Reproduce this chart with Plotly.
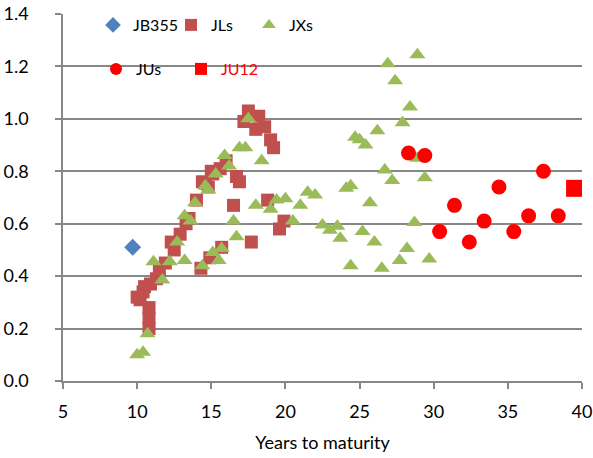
import plotly.graph_objects as go

# ---- data ----
jb355_x = [9.7]
jb355_y = [0.51]

jls_x = [10.0, 10.2, 10.4, 10.5, 10.8, 10.8, 10.8, 10.9, 11.3, 11.5, 11.9, 12.3, 12.5, 12.9,
         13.3, 13.5, 14.0, 14.4, 14.8, 15.1, 15.6, 16.0, 16.7, 16.9, 17.2, 17.5, 18.0, 18.2,
         18.6, 19.0, 19.2, 16.5, 18.8, 19.6, 19.9, 17.7, 15.7, 14.9, 14.3, 14.6, 15.0]
jls_y = [0.32, 0.31, 0.34, 0.36, 0.28, 0.24, 0.20, 0.37, 0.39, 0.42, 0.45, 0.53, 0.50, 0.56,
         0.60, 0.62, 0.69, 0.76, 0.74, 0.79, 0.81, 0.84, 0.78, 0.76, 0.99, 1.03, 0.96, 1.01,
         0.97, 0.92, 0.89, 0.67, 0.69, 0.58, 0.61, 0.53, 0.51, 0.47, 0.43, 0.755, 0.80]

jxs_x = [10.0, 10.4, 10.7, 11.7, 11.1, 12.2, 13.2, 12.7, 13.2, 13.6, 13.9, 14.6, 14.8, 15.3,
         15.9, 16.2, 16.9, 17.3, 17.5, 18.4, 18.0, 19.0, 19.4, 20.0, 21.0, 21.5, 22.0, 20.5,
         16.5, 16.7, 22.5, 23.0, 23.5, 23.7, 15.1, 15.7, 15.5, 14.4, 24.7, 25.0, 25.4, 26.2,
         26.9, 28.9, 27.4, 28.4, 27.9, 28.9, 26.7, 27.2, 29.4, 24.1, 24.4, 25.7, 28.7, 25.2,
         26.0, 28.2, 27.7, 29.7, 24.4, 26.5]
jxs_y = [0.10, 0.11, 0.18, 0.385, 0.455, 0.455, 0.46, 0.53, 0.63, 0.61, 0.68, 0.745, 0.73, 0.79,
         0.86, 0.82, 0.89, 0.89, 1.00, 0.84, 0.67, 0.655, 0.69, 0.695, 0.67, 0.72, 0.71, 0.61,
         0.61, 0.55, 0.595, 0.575, 0.59, 0.545, 0.49, 0.505, 0.46, 0.44, 0.93, 0.92, 0.90, 0.955,
         1.21, 1.245, 1.145, 1.045, 0.985, 0.85, 0.805, 0.765, 0.775, 0.735, 0.745, 0.68, 0.605, 0.57,
         0.53, 0.505, 0.46, 0.465, 0.44, 0.43]

jus_x = [28.3, 29.4, 30.4, 31.4, 32.4, 33.4, 34.4, 35.4, 36.4, 37.4, 38.4]
jus_y = [0.87, 0.86, 0.57, 0.67, 0.53, 0.61, 0.74, 0.57, 0.63, 0.80, 0.63]

ju12_x = [39.5]
ju12_y = [0.735]

x_ticks = [5, 10, 15, 20, 25, 30, 35, 40]
y_ticks = [0.0, 0.2, 0.4, 0.6, 0.8, 1.0, 1.2, 1.4]

FONT = "Lato"
GRID = "#878787"
L, R, T, B = 63, 11, 14, 77
PW = 593 - L - R
PH = 458 - T - B


def px_x(p):
    return (p - L) / PW


def px_y(p):
    return (458 - B - p) / PH


fig = go.Figure()
fig.add_trace(go.Scatter(x=jb355_x, y=jb355_y, mode="markers", name="JB355", legend="legend",
                         marker=dict(symbol="diamond", size=13, color="#4F81BD")))
fig.add_trace(go.Scatter(x=jls_x, y=jls_y, mode="markers", name="JLs", legend="legend",
                         marker=dict(symbol="square", size=13, color="#C0504D")))
fig.add_trace(go.Scatter(x=jxs_x, y=jxs_y, mode="markers", name="JXs", legend="legend",
                         marker=dict(symbol="triangle-up", size=14, color="#9BBB59")))
fig.add_trace(go.Scatter(x=jus_x, y=jus_y, mode="markers", name="JUs", legend="legend2",
                         marker=dict(symbol="circle", size=15, color="#FF0000")))
fig.add_trace(go.Scatter(x=ju12_x, y=ju12_y, mode="markers",
                         name="<span style='color:#FF0000'>JU12</span>", legend="legend2",
                         marker=dict(symbol="square", size=17, color="#FF0000")))

fig.add_shape(type="rect", xref="paper", yref="paper",
              x0=px_x(106), x1=px_x(331), y0=px_y(88), y1=px_y(0),
              fillcolor="white", line=dict(width=0), layer="between")

fig.update_layout(
    width=593, height=458,
    margin=dict(l=L, r=R, t=T, b=B, autoexpand=False),
    paper_bgcolor="white", plot_bgcolor="white",
    font=dict(family=FONT, size=17, color="#000000"),
    showlegend=True,
    legend=dict(orientation="h", x=px_x(93), xanchor="left", y=px_y(8), yanchor="top",
                bgcolor="rgba(255,255,255,0)", font=dict(size=16), entrywidth=33,
                itemsizing="constant"),
    legend2=dict(orientation="h", x=px_x(96), xanchor="left", y=px_y(52), yanchor="top",
                 bgcolor="rgba(255,255,255,0)", font=dict(size=16), entrywidth=40,
                 itemsizing="constant"),
    xaxis=dict(range=[5, 40], tickmode="array", tickvals=x_ticks, automargin=False,
               showgrid=False, zeroline=False, showline=True, linecolor=GRID, linewidth=1.5,
               ticks="outside", ticklen=6, tickcolor=GRID, tickwidth=1.5,
               tickfont=dict(size=18), ticklabelstandoff=8,
               title=dict(text="Years to maturity", font=dict(size=18), standoff=15)),
    yaxis=dict(range=[0, 1.4], tickmode="array", tickvals=y_ticks, tickformat=".1f",
               automargin=False,
               showgrid=True, gridcolor=GRID, gridwidth=1.5, zeroline=False,
               showline=True, linecolor=GRID, linewidth=1.5,
               ticks="outside", ticklen=6, tickcolor=GRID, tickwidth=1.5,
               tickfont=dict(size=18), ticklabelstandoff=23),
)

fig.write_html("out.html", config={"displayModeBar": False},
               post_script="document.body.style.margin='0px';")
